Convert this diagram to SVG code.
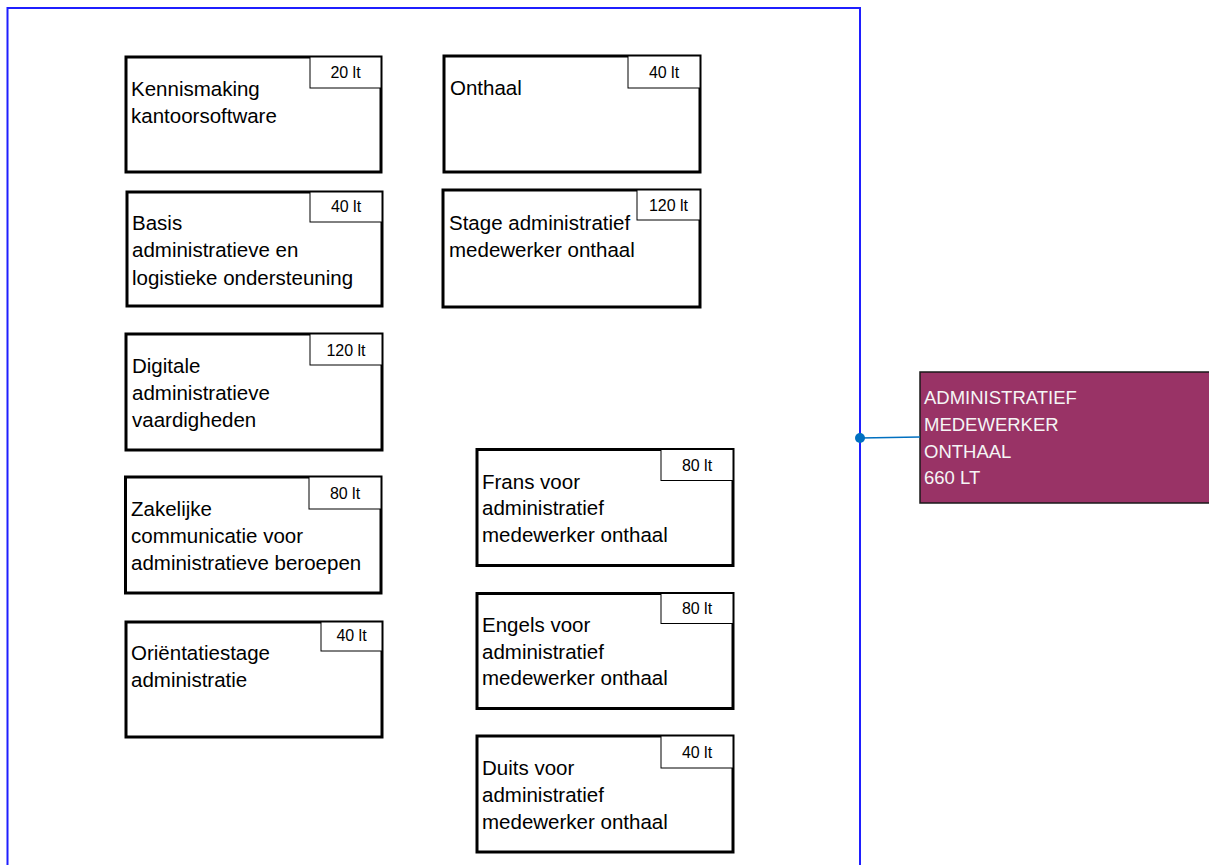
<svg xmlns="http://www.w3.org/2000/svg" width="1209" height="865" viewBox="0 0 1209 865">
<style>
.box{fill:#fff;stroke:#000;stroke-width:3}
.lbl{fill:#fff;stroke:#000;stroke-width:1}
.t{font-family:"Liberation Sans",Arial,sans-serif;font-size:20.5px;fill:#000}
.lt{font-family:"Liberation Sans",Arial,sans-serif;font-size:16px;fill:#000;text-anchor:middle}
.pt{font-family:"Liberation Sans",Arial,sans-serif;font-size:18.5px;fill:#F5F5F5}
</style>
<rect width="1209" height="865" fill="#fff"/>
<g id="container">
<rect x="7.5" y="8" width="852.5" height="880" fill="none" stroke="#1F1FFF" stroke-width="2"/>
</g>
<g id="n1">
<rect class="box" x="126" y="57" width="255" height="115"/>
<rect class="lbl" x="310" y="57" width="71" height="31"/>
<text class="lt" x="345.5" y="78">20 lt</text>
<text class="t"><tspan x="131" y="96">Kennismaking</tspan><tspan x="131" y="123">kantoorsoftware</tspan></text>
</g>
<g id="n2">
<rect class="box" x="127" y="192" width="255" height="114"/>
<rect class="lbl" x="310" y="192" width="72" height="30"/>
<text class="lt" x="346" y="212">40 lt</text>
<text class="t"><tspan x="132" y="230">Basis</tspan><tspan x="132" y="257">administratieve en</tspan><tspan x="132" y="285">logistieke ondersteuning</tspan></text>
</g>
<g id="n3">
<rect class="box" x="126" y="334" width="256" height="116"/>
<rect class="lbl" x="310" y="334" width="72" height="31"/>
<text class="lt" x="346" y="356">120 lt</text>
<text class="t"><tspan x="132" y="373">Digitale</tspan><tspan x="132" y="400">administratieve</tspan><tspan x="132" y="427">vaardigheden</tspan></text>
</g>
<g id="n4">
<rect class="box" x="125.5" y="477" width="255.5" height="116"/>
<rect class="lbl" x="309" y="477" width="72" height="32"/>
<text class="lt" x="345" y="498.5">80 lt</text>
<text class="t"><tspan x="131" y="516">Zakelijke</tspan><tspan x="131" y="543">communicatie voor</tspan><tspan x="131" y="569.5">administratieve beroepen</tspan></text>
</g>
<g id="n5">
<rect class="box" x="126" y="622" width="256" height="115"/>
<rect class="lbl" x="321" y="622" width="61" height="29"/>
<text class="lt" x="351.5" y="641">40 lt</text>
<text class="t"><tspan x="131" y="660">Oriëntatiestage</tspan><tspan x="131" y="687">administratie</tspan></text>
</g>
<g id="n6">
<rect class="box" x="444" y="56" width="256" height="116"/>
<rect class="lbl" x="628" y="56" width="72" height="32"/>
<text class="lt" x="664" y="77.5">40 lt</text>
<text class="t"><tspan x="450" y="95">Onthaal</tspan></text>
</g>
<g id="n7">
<rect class="box" x="443" y="190" width="257" height="117"/>
<rect class="lbl" x="637" y="190" width="63" height="30"/>
<text class="lt" x="668.5" y="211">120 lt</text>
<text class="t"><tspan x="449" y="230">Stage administratief</tspan><tspan x="449" y="257">medewerker onthaal</tspan></text>
</g>
<g id="n8">
<rect class="box" x="477" y="449.5" width="256" height="116"/>
<rect class="lbl" x="661" y="449.5" width="72" height="31"/>
<text class="lt" x="697" y="471">80 lt</text>
<text class="t"><tspan x="482" y="488.5">Frans voor</tspan><tspan x="482" y="515">administratief</tspan><tspan x="482" y="542">medewerker onthaal</tspan></text>
</g>
<g id="n9">
<rect class="box" x="477" y="593.5" width="256" height="115"/>
<rect class="lbl" x="661" y="593.5" width="72" height="30"/>
<text class="lt" x="697" y="613.5">80 lt</text>
<text class="t"><tspan x="482" y="632">Engels voor</tspan><tspan x="482" y="658.5">administratief</tspan><tspan x="482" y="685">medewerker onthaal</tspan></text>
</g>
<g id="n10">
<rect class="box" x="477" y="736" width="256" height="116"/>
<rect class="lbl" x="661" y="736" width="72" height="32"/>
<text class="lt" x="697" y="757.5">40 lt</text>
<text class="t"><tspan x="482" y="775">Duits voor</tspan><tspan x="482" y="802">administratief</tspan><tspan x="482" y="828.5">medewerker onthaal</tspan></text>
</g>
<g id="target">
<rect x="920" y="372" width="300" height="131" fill="#993366" stroke="#1a1a1a" stroke-width="1.5"/>
<text class="pt"><tspan x="924" y="404">ADMINISTRATIEF</tspan><tspan x="924" y="431">MEDEWERKER</tspan><tspan x="924" y="458">ONTHAAL</tspan><tspan x="924" y="484">660 LT</tspan></text>
</g>
<g id="connectors">
<line x1="860" y1="438" x2="920" y2="437" stroke="#0070C0" stroke-width="1.5"/>
<circle cx="860" cy="438" r="5" fill="#0070C0"/>
</g>
</svg>
